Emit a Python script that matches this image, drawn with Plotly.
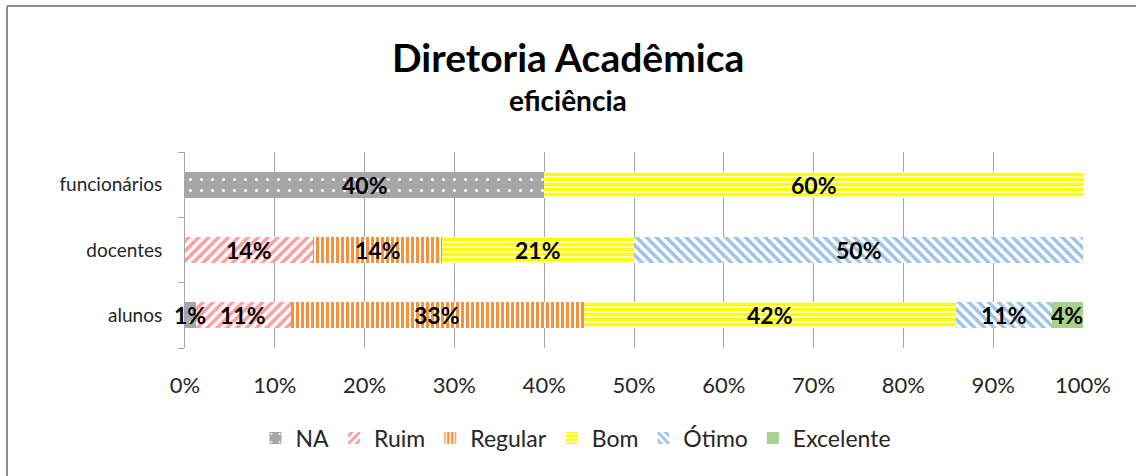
import plotly.graph_objects as go

categories = ["alunos", "docentes", "funcionários"]
series_names = ["NA", "Ruim", "Regular", "Bom", "Ótimo", "Excelente"]
na = [1.2, 0, 40]
ruim = [10.6, 14.3, 0]
regular = [32.6, 14.3, 0]
bom = [41.5, 21.4, 60]
otimo = [10.6, 50.0, 0]
excelente = [3.5, 0, 0]
tick_vals = [0, 10, 20, 30, 40, 50, 60, 70, 80, 90, 100]
tick_text = [f"{v}%" for v in tick_vals]

series_values = [na, ruim, regular, bom, otimo, excelente]
styles = [
    dict(shape=".", fgcolor="#ffffff", bgcolor="#a6a6a6", size=11, solidity=0.06, fgopacity=1),
    dict(shape="/", fgcolor="#ff9e9e", bgcolor="#ffffff", size=7, solidity=0.5, fgopacity=1),
    dict(shape="|", fgcolor="#f7923a", bgcolor="#ffffff", size=5, solidity=0.6, fgopacity=1),
    dict(shape="-", fgcolor="#ffff00", bgcolor="#ffffff", size=5, solidity=0.7, fgopacity=1),
    dict(shape="\\", fgcolor="#9dc3e6", bgcolor="#ffffff", size=7, solidity=0.5, fgopacity=1),
    dict(shape="", fgcolor="#a9d18e", bgcolor="#a9d18e", size=8, solidity=1),
]
solid = ["#a6a6a6", "#ff9e9e", "#f7923a", "#ffff00", "#9dc3e6", "#a9d18e"]

FONT = "Lato"
TXT = "#262626"
fig = go.Figure()
for name, vals, st, col in zip(series_names, series_values, styles, solid):
    fig.add_trace(go.Bar(
        y=categories, x=vals, name=name, orientation="h",
        marker=dict(color=col, line=dict(width=0), pattern=st, opacity=1),
        hoverinfo="skip",
    ))

# data labels centred on each segment
annotations = []
for ci, cat in enumerate(categories):
    left = 0.0
    for vals in series_values:
        v = vals[ci]
        if v > 0:
            annotations.append(dict(
                x=left + v / 2, y=cat, xref="x", yref="y", text=f"<b>{round(v)}%</b>",
                showarrow=False, xanchor="center", yanchor="middle",
                font=dict(family=FONT, size=23, color="#000000")))
        left += v

annotations += [
    dict(text="<b>Diretoria Acadêmica</b>", xref="paper", yref="paper",
         x=(568 - 185) / 898, y=(348 - 57) / 196, showarrow=False,
         font=dict(family=FONT, size=39, color="#000000"), xanchor="center", yanchor="middle"),
    dict(text="<b>eficiência</b>", xref="paper", yref="paper",
         x=(568 - 185) / 898, y=(348 - 100) / 196, showarrow=False,
         font=dict(family=FONT, size=28, color="#000000"), xanchor="center", yanchor="middle"),
]

fig.update_layout(
    barmode="stack", bargap=0.6,
    width=1136, height=476,
    margin=dict(l=185, r=53, t=152, b=128, autoexpand=False),
    paper_bgcolor="#ffffff", plot_bgcolor="#ffffff",
    font=dict(family=FONT, size=19, color=TXT),
    showlegend=True,
    legend=dict(orientation="h", x=(576 - 185) / 898, xanchor="center",
                y=(348 - 438) / 196, yanchor="middle",
                font=dict(family=FONT, size=23, color=TXT),
                itemwidth=30, traceorder="normal", tracegroupgap=0),
    xaxis=dict(range=[0, 100], tickvals=tick_vals, ticktext=tick_text,
               showgrid=True, gridcolor="#a6a6a6", gridwidth=1,
               zeroline=False, showline=False, ticks="", ticklabelstandoff=22,
               automargin=False,
               tickfont=dict(family=FONT, size=22, color=TXT), fixedrange=True),
    yaxis=dict(showline=True, linecolor="#a6a6a6", linewidth=1, ticks="outside",
               tickson="boundaries", ticklen=6, tickcolor="#a6a6a6",
               ticklabelstandoff=18, automargin=False,
               tickfont=dict(family=FONT, size=19, color=TXT), fixedrange=True),
    annotations=annotations,
    shapes=[
        dict(type="line", xref="paper", yref="paper",
             x0=(7 - 185) / 898, x1=(7 - 185) / 898, y0=(348 - 6) / 196, y1=(348 - 480) / 196,
             line=dict(color="#8c8c8c", width=2)),
        dict(type="line", xref="paper", yref="paper",
             x0=(7 - 185) / 898, x1=(1140 - 185) / 898, y0=(348 - 6) / 196, y1=(348 - 6) / 196,
             line=dict(color="#8c8c8c", width=2)),
    ],
)

fig.write_html("out.html", config={"displayModeBar": False},
               post_script="document.body.style.margin='0';document.body.style.overflow='hidden';")
